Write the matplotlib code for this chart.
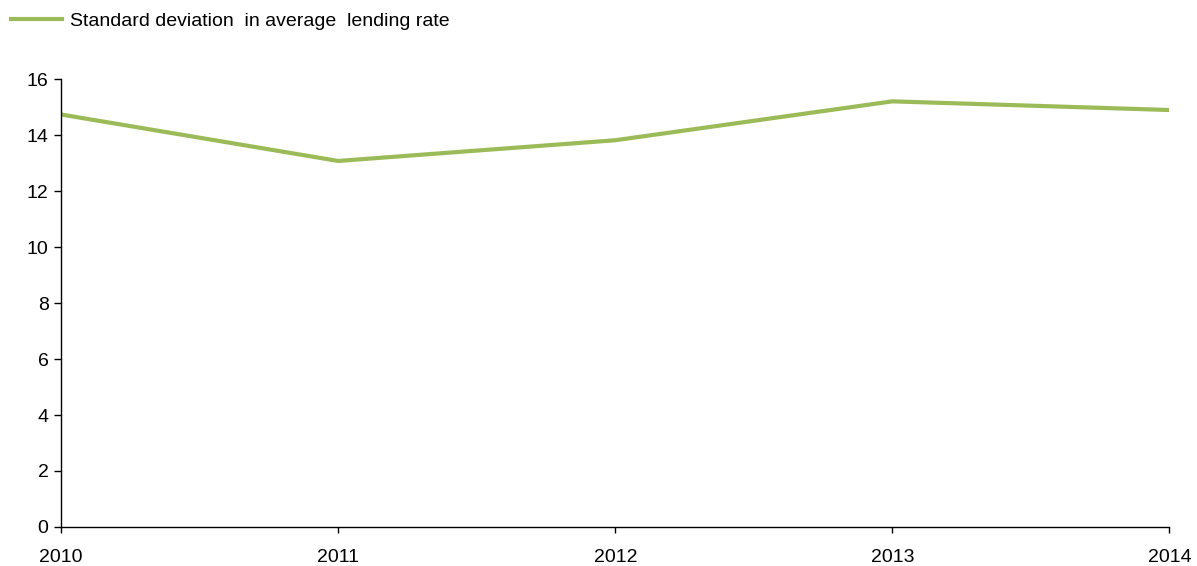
import matplotlib.pyplot as plt

years = ['2010', '2011', '2012', '2013', '2014']
std_dev = [14.74, 13.08, 13.82, 15.21, 14.90]
series_label = 'Standard deviation  in average  lending rate'

plt.rcParams['font.family'] = ['Liberation Sans', 'DejaVu Sans']

fig = plt.figure(figsize=(11.97, 5.66), dpi=100)
ax = fig.add_axes([0.051, 0.069, 0.926, 0.791])

line, = ax.plot(range(len(years)), std_dev, color='#9BBB59', linewidth=3.0,
                solid_joinstyle='round', label=series_label)

ax.set_xlim(0, len(years) - 1)
ax.set_ylim(0, 16)
ax.set_yticks(range(0, 17, 2))
ax.set_xticks(range(len(years)))
ax.set_xticklabels(years)

for side in ['top', 'right']:
    ax.spines[side].set_visible(False)
for side in ['left', 'bottom']:
    ax.spines[side].set_linewidth(1.0)
    ax.spines[side].set_color('black')

ax.tick_params(axis='y', direction='out', length=5, width=1, labelsize=14, pad=4)
ax.tick_params(axis='x', direction='out', length=4, width=1, labelsize=14, pad=12)

fig.legend(handles=[line], loc='center left', bbox_to_anchor=(0.003, 0.963),
           frameon=False, fontsize=14, handlelength=2.6, handletextpad=0.4,
           borderaxespad=0)

fig.savefig('out.png', dpi=100)
